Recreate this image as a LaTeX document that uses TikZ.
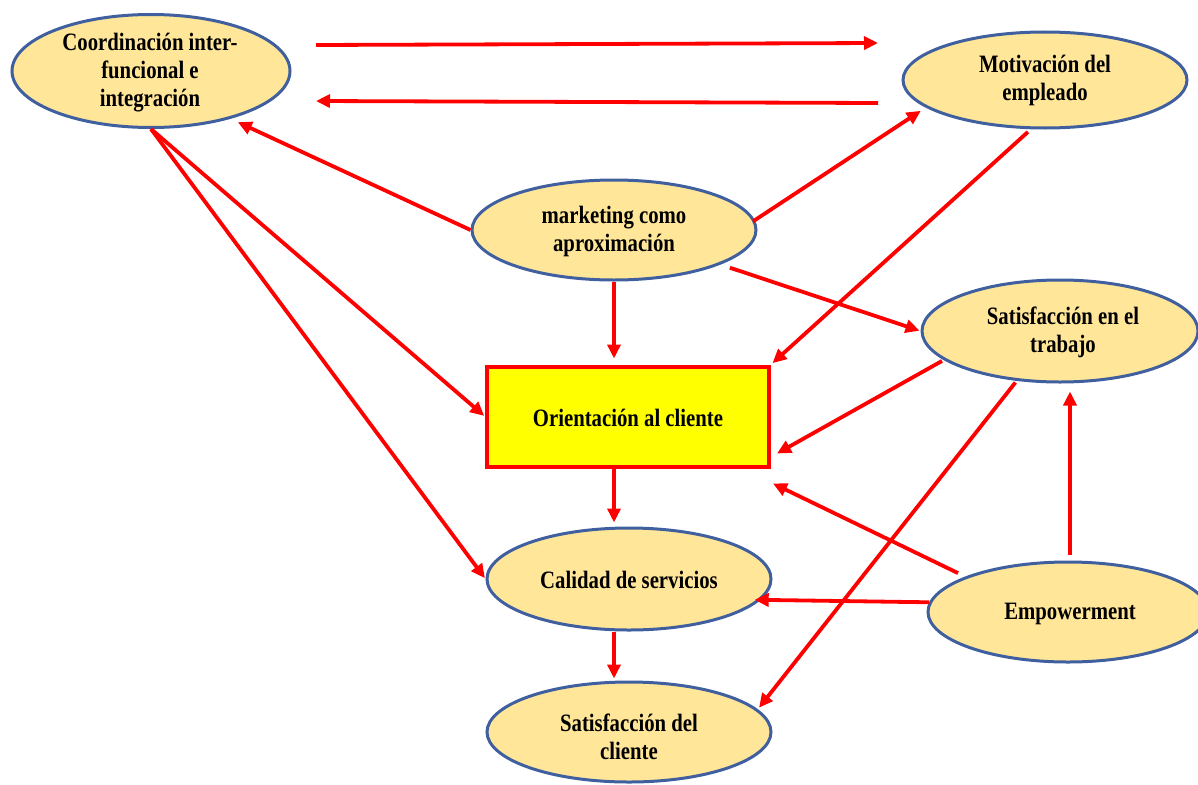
\documentclass[tikz,border=0pt]{standalone}
\usepackage{fontspec}
\setmainfont{Liberation Serif}[FakeStretch=0.83]
\usetikzlibrary{shapes.geometric,arrows.meta,calc}
\definecolor{ellfill}{HTML}{FFE699}
\definecolor{ellline}{HTML}{3F5F9F}
\definecolor{arrred}{HTML}{FF0000}
\definecolor{boxyellow}{HTML}{FFFF00}
\begin{document}
\begin{tikzpicture}[x=1pt,y=-1pt,
  ell/.style={ellipse,draw=ellline,fill=ellfill,line width=3pt,inner sep=0pt},
  txt/.style={align=center,font=\fontsize{25}{28}\selectfont\bfseries,inner sep=0pt},
  orbox/.style={rectangle,draw=arrred,fill=boxyellow,line width=4pt,inner sep=0pt,minimum width=282pt,minimum height=100pt},
  conn/.style={draw=arrred,line width=3.8pt,-{Triangle[length=14pt,width=13pt]}}]
\useasboundingbox (0,0) rectangle (1198,784);
% nodes
\node[ell,minimum width=278pt,minimum height=113pt] (coord) at (151,71) {};
\node[txt] (coordt) at (150,73) {Coordinación inter-\\funcional e\\integración};
\node[ell,minimum width=284pt,minimum height=96pt] (motiv) at (1045,80) {};
\node[txt] (motivt) at (1045,80) {Motivación del\\empleado};
\node[ell,minimum width=284pt,minimum height=100pt] (mkt) at (614,230) {};
\node[txt] (mktt) at (614,231) {marketing como\\aproximación};
\node[orbox] (orient) at (628,416.5) {};
\node[txt] (orientt) at (628,418) {Orientación al cliente};
\node[ell,minimum width=276pt,minimum height=102pt] (sattrab) at (1060,331) {};
\node[txt] (sattrabt) at (1063,332) {Satisfacción en el\\trabajo};
\node[ell,minimum width=280pt,minimum height=100pt] (emp) at (1068,612) {};
\node[txt] (empt) at (1070,614) {Empowerment};
\node[ell,minimum width=284pt,minimum height=102pt] (calidad) at (629,579) {};
\node[txt] (calidadt) at (629,580) {Calidad de servicios};
\node[ell,minimum width=284pt,minimum height=100pt] (satcli) at (629,732) {};
\node[txt] (satclit) at (629,737) {Satisfacción del\\cliente};
% free coordinates of the two top arrows
\coordinate (t1) at (316,45);
\coordinate (t2) at (878,43);
\coordinate (t3) at (878,103);
\coordinate (t4) at (316,101);
% connectors
\draw[conn] (t1) -- (t2);
\draw[conn] (t3) -- (t4);
\draw[conn,shorten >=8pt] (mkt.west) -- (coord.-31);
\draw[conn,shorten <=-2pt,shorten >=6pt] (mkt.4) -- (motiv.-167);
\draw[conn,shorten <=4pt,shorten >=2pt] (motiv.-106) -- (orient.north east);
\draw[conn,shorten <=10pt,shorten >=1pt] (mkt.-18) -- (sattrab.west);
\draw[conn,shorten >=6pt] (mkt.south) -- (mkt.south |- orient.north);
\draw[conn,shorten >=1pt] (coord.south) -- (orient.west);
\draw[conn,shorten >=1pt] (coord.south) -- (calidad.west);
\draw[conn,shorten <=2pt] (sattrab.-166) -- ([xshift=6pt,yshift=-37pt]orient.east);
\draw[conn,shorten <=2pt,shorten >=2pt] (sattrab.-131) -- (satcli.10);
\draw[conn,shorten <=6pt,shorten >=8pt] ([xshift=2pt]emp.north) -- ([xshift=2pt]emp.north |- sattrab.south);
\draw[conn,shorten <=8pt] (emp.161) -- ([xshift=2pt,yshift=-15pt]orient.south east);
\draw[conn,shorten >=-6pt] (emp.176) -- (calidad.-9);
\draw[conn,shorten >=4pt] (orient.south -| mkt.south) -- (calidad.north -| mkt.south);
\draw[conn,shorten >=2pt] (calidad.south -| mkt.south) -- (satcli.north -| mkt.south);
\end{tikzpicture}
\end{document}
